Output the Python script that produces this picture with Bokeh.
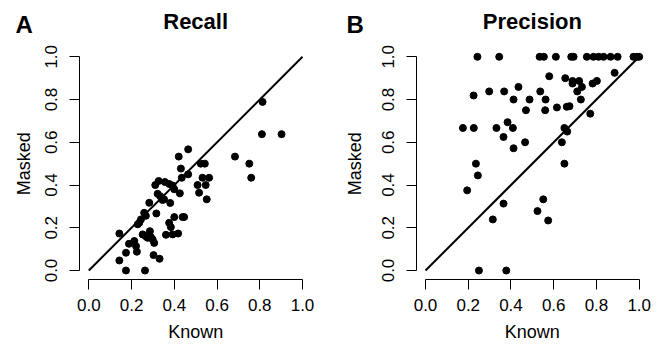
import math
from bokeh.plotting import figure
from bokeh.layouts import row
from bokeh.models import Label, FixedTicker
from bokeh.embed import file_html
from bokeh.resources import INLINE

recall_known = [0.143, 0.143, 0.174, 0.174, 0.188, 0.213, 0.221, 0.225, 0.229, 0.236,
                0.244, 0.252, 0.259, 0.267, 0.263, 0.267, 0.275, 0.283, 0.286, 0.291,
                0.299, 0.306, 0.303, 0.311, 0.316, 0.322, 0.327, 0.331, 0.334, 0.345,
                0.352, 0.356, 0.361, 0.376, 0.376, 0.381, 0.384, 0.392, 0.392, 0.400,
                0.400, 0.418, 0.421, 0.426, 0.431, 0.435, 0.439, 0.446, 0.465, 0.465,
                0.509, 0.516, 0.524, 0.532, 0.543, 0.547, 0.552, 0.563, 0.684, 0.751,
                0.760, 0.810, 0.813, 0.902]
recall_masked = [0.173, 0.047, 0.083, 0.000, 0.125, 0.138, 0.114, 0.088, 0.216, 0.223,
                 0.239, 0.169, 0.270, 0.256, 0.000, 0.160, 0.153, 0.317, 0.184, 0.156,
                 0.145, 0.129, 0.072, 0.400, 0.267, 0.359, 0.419, 0.055, 0.348, 0.330,
                 0.333, 0.414, 0.167, 0.405, 0.223, 0.316, 0.203, 0.398, 0.169, 0.380,
                 0.250, 0.173, 0.533, 0.361, 0.477, 0.434, 0.250, 0.250, 0.567, 0.450,
                 0.400, 0.364, 0.500, 0.434, 0.500, 0.400, 0.333, 0.434, 0.533, 0.500,
                 0.434, 0.638, 0.789, 0.638]

precision_known = [0.243, 0.345, 0.534, 0.554, 0.610, 0.682, 0.693, 0.755, 0.786, 0.810,
                   0.833, 0.866, 0.899, 0.973, 0.990, 1.000,
                   0.579, 0.654, 0.885, 0.688, 0.719, 0.688, 0.802, 0.782, 0.435, 0.732,
                   0.298, 0.368, 0.537, 0.710, 0.225, 0.412, 0.487, 0.562, 0.727, 0.615,
                   0.661, 0.674, 0.470, 0.560, 0.771, 0.384, 0.175, 0.226, 0.332, 0.409,
                   0.650, 0.663, 0.365, 0.466, 0.638, 0.412, 0.236, 0.650, 0.245, 0.195,
                   0.551, 0.365, 0.524, 0.315, 0.574, 0.250, 0.378]
precision_masked = [1.0, 1.0, 1.0, 1.0, 1.0, 1.0, 1.0, 1.0, 1.0, 1.0,
                    1.0, 1.0, 1.0, 1.0, 1.0, 1.0,
                    0.909, 0.900, 0.925, 0.887, 0.887, 0.875, 0.887, 0.875, 0.859, 0.859,
                    0.838, 0.838, 0.838, 0.838, 0.819, 0.800, 0.800, 0.800, 0.800, 0.763,
                    0.766, 0.769, 0.750, 0.750, 0.734, 0.694, 0.667, 0.667, 0.667, 0.667,
                    0.667, 0.650, 0.625, 0.600, 0.600, 0.572, 0.500, 0.500, 0.445, 0.375,
                    0.333, 0.313, 0.278, 0.239, 0.234, 0.000, 0.000]

diag_x = [0.0, 1.0]
diag_y = [0.0, 1.0]
ticks = [0.0, 0.2, 0.4, 0.6, 0.8, 1.0]
tick_labels = {0.0: "0.0", 0.2: "0.2", 0.4: "0.4", 0.6: "0.6", 0.8: "0.8", 1.0: "1.0"}

FONT = "Liberation Sans"
W, H = 331, 344          # size of each panel in pixels
K = 213.7                # pixels per data unit
Y0_PX = 270.0            # pixel row of y = 0
AXIS_GAP = 0.042         # R-style offset of the axis lines from 0
BASE_FIX = 9             # label baseline correction in pixels


def make_panel(title, letter, xs, ys, x0_px):
    def dx(px):
        return (px - x0_px) / K

    def dy(py):
        return (Y0_PX - py) / K

    p = figure(frame_width=W, frame_height=H, x_range=(dx(0), dx(W)),
               y_range=(dy(H), dy(0)), output_backend="svg", toolbar_location=None,
               min_border=0, title=None)
    p.outline_line_color = None
    p.grid.visible = False
    for ax in (p.xaxis[0], p.yaxis[0]):
        ax.fixed_location = -AXIS_GAP
        ax.ticker = FixedTicker(ticks=ticks)
        ax.major_label_overrides = tick_labels
        ax.bounds = (0, 1)
        ax.major_tick_in = 0
        ax.major_tick_out = 10
        ax.minor_tick_line_color = None
        ax.axis_line_color = "black"
        ax.major_tick_line_color = "black"
        ax.major_label_text_font = FONT
        ax.major_label_text_font_size = "17px"
        ax.major_label_text_color = "black"
    p.xaxis.major_label_standoff = 10
    p.yaxis.major_label_standoff = 13
    p.yaxis.major_label_orientation = "vertical"

    p.line(diag_x, diag_y, line_color="black", line_width=2)
    p.scatter(xs, ys, size=7, fill_color="black", line_color="black")

    common = dict(text_font=FONT, text_color="black", text_baseline="alphabetic")
    p.add_layout(Label(x=dx(15), y=dy(33 - BASE_FIX), text=letter, text_font_size="24px",
                       text_font_style="bold", text_align="left", **common))
    p.add_layout(Label(x=0.5, y=dy(30 - BASE_FIX), text=title, text_font_size="22px",
                       text_font_style="bold", text_align="center", **common))
    p.add_layout(Label(x=0.5, y=dy(340 - BASE_FIX), text="Known", text_font_size="18px",
                       text_align="center", **common))
    p.add_layout(Label(x=dx(32 - BASE_FIX), y=0.5, text="Masked", text_font_size="18px",
                       text_align="center", angle=math.pi / 2, **common))
    return p


pA = make_panel("Recall", "A", recall_known, recall_masked, 88.3)
pB = make_panel("Precision", "B", precision_known, precision_masked, 94.0)

layout = row(pA, pB)
open("out.html", "w").write(file_html(layout, INLINE))
